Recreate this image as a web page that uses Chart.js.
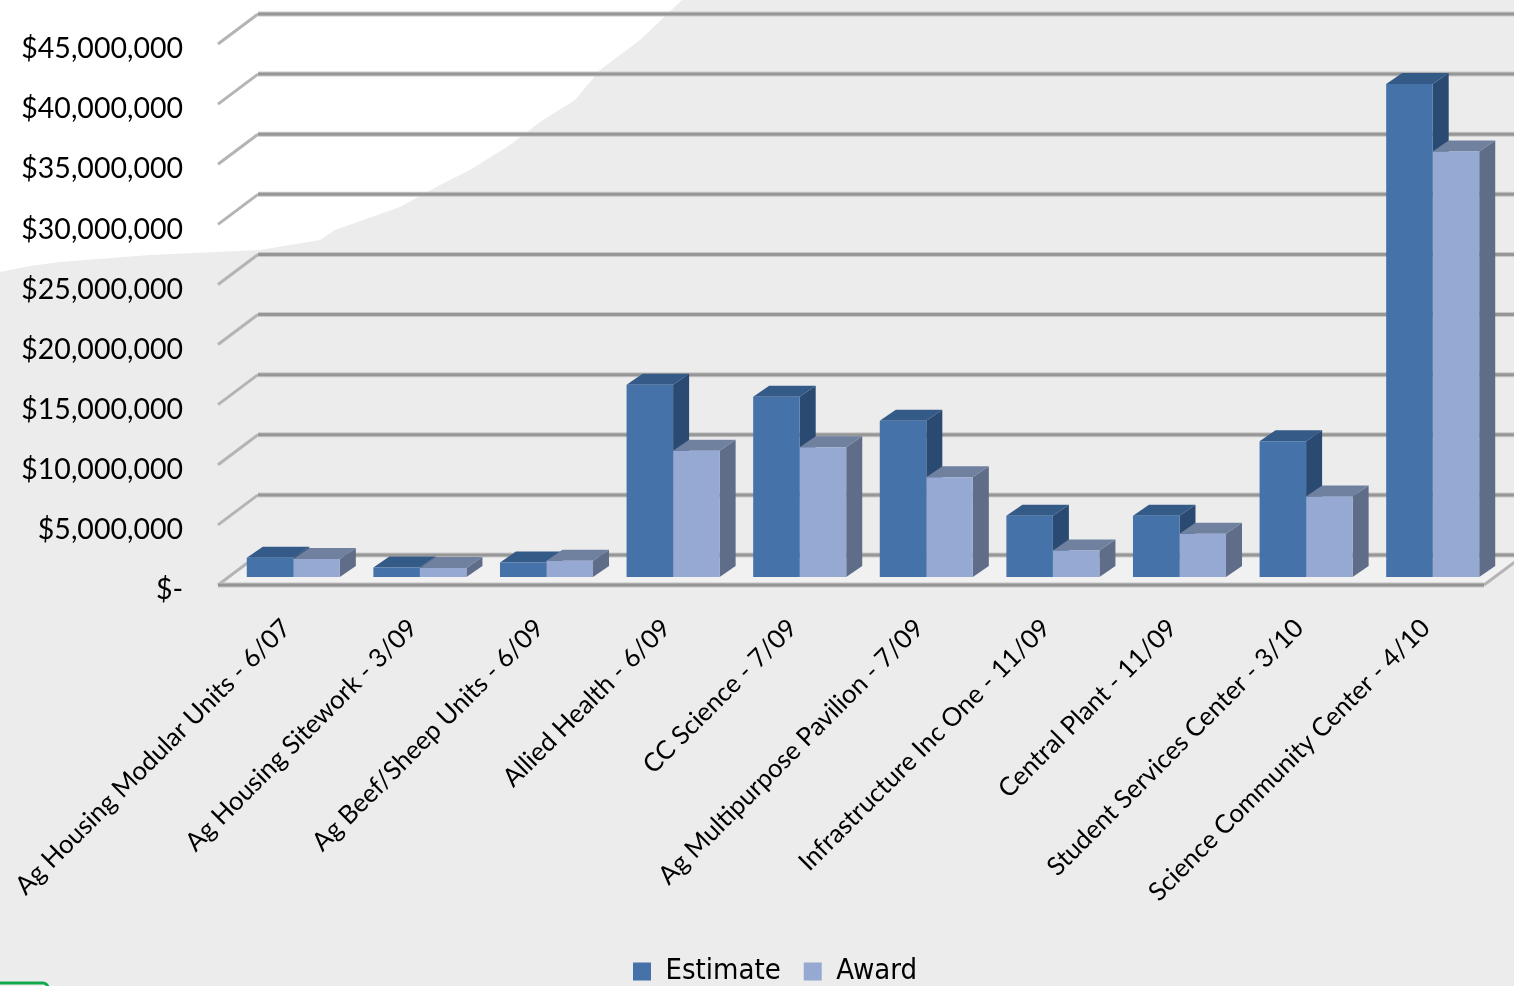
<!DOCTYPE html>
<html><head><meta charset="utf-8">
<style>html,body{margin:0;padding:0;background:#ececec;overflow:hidden}canvas{display:block}</style>
<script src="https://cdn.jsdelivr.net/npm/chart.js@4"></script>
</head><body><canvas id="c" width="1514" height="986"></canvas>
<script>
const categories=["Ag Housing Modular Units - 6/07","Ag Housing Sitework - 3/09","Ag Beef/Sheep Units - 6/09","Allied Health - 6/09","CC Science - 7/09","Ag Multipurpose Pavilion - 7/09","Infrastructure Inc One - 11/09","Central Plant - 11/09","Student Services Center - 3/10","Science Community Center - 4/10"];
const estimate=[1600000,800000,1200000,16000000,15000000,13000000,5100000,5100000,11300000,41000000];
const award=[1500000,750000,1350000,10500000,10800000,8300000,2200000,3600000,6700000,35400000];
const seriesNames=["Estimate","Award"];
const seriesColors=["#4573a9","#95a9d2"];
const topColors=["#345a87","#6f819f"];
const sideColors=["#2b4a72","#5f6d88"];
const backdropEdge=[[0,272],[30,266],[60,262],[150,255],[260,250],[320,240],[335,230],[400,207],[440,185],[470,170],[510,145],[540,122],[575,100],[600,70],[640,40],[682,0],[0,0]];
const DEPTH_X=16,DEPTH_Y=-11,BACK_X=28,BACK_Y=-22,FRONT_X=-12,FRONT_Y=8;
const FONT='Lato';

function poly(ctx,pts,fill){ctx.beginPath();pts.forEach((p,i)=>i?ctx.lineTo(p[0],p[1]):ctx.moveTo(p[0],p[1]));ctx.closePath();ctx.fillStyle=fill;ctx.fill();}
function seg(ctx,a,b,color,w){ctx.beginPath();ctx.moveTo(a[0],a[1]);ctx.lineTo(b[0],b[1]);ctx.strokeStyle=color;ctx.lineWidth=w;ctx.stroke();}

const wall3d={id:'wall3d',
 afterLayout(chart){
  const lg=chart.legend;
  lg.left+=27;lg.right+=27;lg.top+=10;lg.bottom+=10;
 },
 beforeDraw(chart){
  const ctx=chart.ctx;ctx.save();
  ctx.fillStyle='#ececec';ctx.fillRect(0,0,chart.width,chart.height);
  poly(ctx,backdropEdge,'#ffffff');
  ctx.beginPath();ctx.roundRect(-10,983,58,12,5);ctx.strokeStyle='#12a84e';ctx.lineWidth=3;ctx.stroke();
  ctx.restore();
 },
 beforeDatasetsDraw(chart){
  const ctx=chart.ctx,y=chart.scales.y,x=chart.scales.x;ctx.save();
  const L=x.left,R=x.right;
  const y0=y.getPixelForValue(0);
  poly(ctx,[[L+FRONT_X,y0+FRONT_Y],[R+FRONT_X,y0+FRONT_Y],[R+BACK_X,y0+BACK_Y],[L+BACK_X,y0+BACK_Y]],'#f1f1f1');
  y.ticks.forEach(t=>{
   const p=y.getPixelForValue(t.value);
   seg(ctx,[L+FRONT_X,p+FRONT_Y],[L+BACK_X,p+BACK_Y],'#b4b4b4',3);
   seg(ctx,[L+BACK_X,p+BACK_Y],[chart.width,p+BACK_Y],'#c9c9c9',5);
   seg(ctx,[L+BACK_X,p+BACK_Y],[chart.width,p+BACK_Y],'#979797',3);
  });
  seg(ctx,[R+FRONT_X,y0+FRONT_Y],[R+BACK_X,y0+BACK_Y],'#b4b4b4',3);
  seg(ctx,[L+FRONT_X,y0+FRONT_Y],[R+FRONT_X,y0+FRONT_Y],'#c4c4c4',5);
  seg(ctx,[L+FRONT_X,y0+FRONT_Y],[R+FRONT_X,y0+FRONT_Y],'#949494',3);
  chart.data.labels.forEach((_,i)=>{
   [0,1].forEach(d=>{
    const b=chart.getDatasetMeta(d).data[i];
    const l=b.x-b.width/2,r=b.x+b.width/2,t=b.y,base=b.base;
    poly(ctx,[[r,t],[r+DEPTH_X,t+DEPTH_Y],[r+DEPTH_X,base+DEPTH_Y],[r,base]],sideColors[d]);
    poly(ctx,[[l,t],[l+DEPTH_X,t+DEPTH_Y],[r+DEPTH_X,t+DEPTH_Y],[r,t]],topColors[d]);
   });
  });
  ctx.restore();
 }
};

Chart.defaults.animation=false;
new Chart(document.getElementById('c'),{
 type:'bar',
 data:{labels:categories,datasets:[
  {label:seriesNames[0],data:estimate,backgroundColor:seriesColors[0],borderWidth:0},
  {label:seriesNames[1],data:award,backgroundColor:seriesColors[1],borderWidth:0}]},
 plugins:[wall3d],
 options:{
  responsive:false,devicePixelRatio:1,
  layout:{padding:{top:36,right:18,left:0,bottom:0}},
  datasets:{bar:{categoryPercentage:0.735,barPercentage:1}},
  plugins:{
   tooltip:{enabled:false},
   legend:{position:'bottom',labels:{font:{family:"'DejaVu Sans Condensed','Open Sans'",size:29},color:'#000',boxWidth:18,boxHeight:18,padding:23}}
  },
  scales:{
   x:{grid:{display:false},border:{display:false},
    afterFit(s){s.height=347;s.paddingLeft=0;s.paddingRight=0;},
    ticks:{autoSkip:false,minRotation:45,maxRotation:45,padding:28,labelOffset:-7,color:'#000',font:{family:FONT,size:25.7}}},
   y:{min:0,max:45000000,grid:{display:false},border:{display:false},
    afterFit(s){s.width=230;s.paddingTop=0;s.paddingBottom=0;},
    ticks:{stepSize:5000000,padding:39,labelOffset:13,color:'#000',font:{family:FONT,size:28.5},
     callback:v=>v===0?'$-':'$'+v.toLocaleString('en-US')}}
  }
 }
});
</script></body></html>
